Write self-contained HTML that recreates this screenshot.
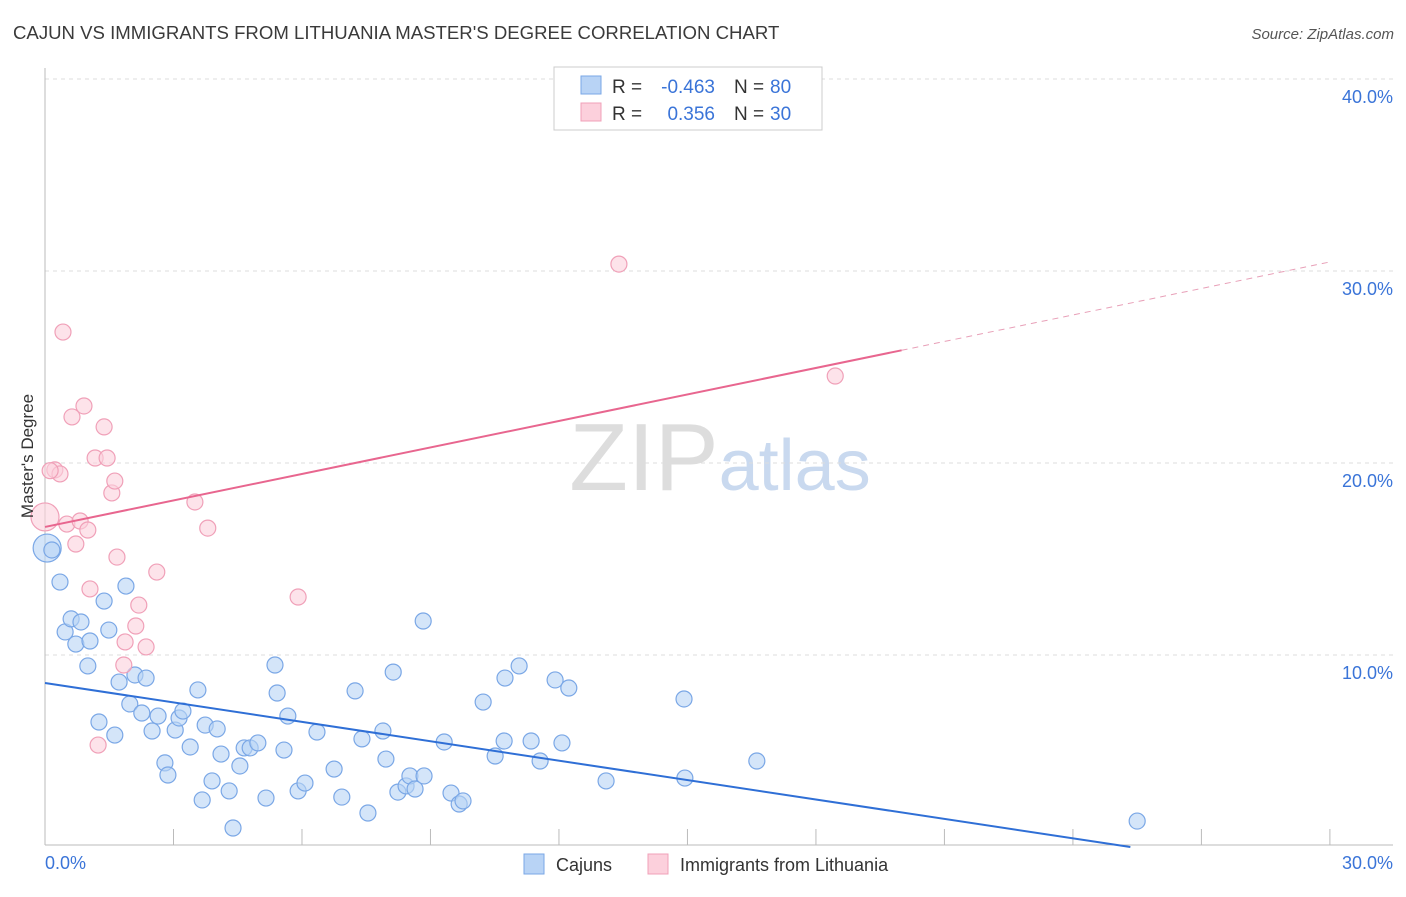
<!DOCTYPE html>
<html><head><meta charset="utf-8"><style>
body{margin:0;background:#fff;font-family:"Liberation Sans",sans-serif}
svg text{font-family:"Liberation Sans",sans-serif}
</style></head><body>
<svg id="chart" width="1406" height="892" xmlns="http://www.w3.org/2000/svg">
<text x="13" y="39" font-size="18.6" fill="#3a3a3a">CAJUN VS IMMIGRANTS FROM LITHUANIA MASTER'S DEGREE CORRELATION CHART</text>
<text x="1394" y="39" font-size="15" fill="#555" text-anchor="end" font-style="italic">Source: ZipAtlas.com</text>
<text x="720" y="490" font-size="96" text-anchor="middle" fill="#ddd" font-family="Liberation Serif">ZIP<tspan fill="#c9d9ef" font-family="Liberation Sans" font-size="72">atlas</tspan></text>
<g id="grid"></g><g id="axes"></g><g id="marks"></g><g id="lines"></g>
<text transform="translate(33,456) rotate(-90)" font-size="17" fill="#333" text-anchor="middle">Master's Degree</text>
<g>
<rect x="554" y="67" width="268" height="63" fill="#fff" stroke="#ccc"/>
<rect x="581" y="76" width="20" height="18" fill="#b8d3f5" stroke="#7aa7e6"/>
<rect x="581" y="103" width="20" height="18" fill="#fcd0dc" stroke="#f0a0b8"/>
<text x="612" y="93" font-size="19" fill="#333">R =</text>
<text x="715" y="93" font-size="19" fill="#3a74d8" text-anchor="end">-0.463</text>
<text x="734" y="93" font-size="19" fill="#333">N =</text>
<text x="770" y="93" font-size="19" fill="#3a74d8">80</text>
<text x="612" y="120" font-size="19" fill="#333">R =</text>
<text x="715" y="120" font-size="19" fill="#3a74d8" text-anchor="end">0.356</text>
<text x="734" y="120" font-size="19" fill="#333">N =</text>
<text x="770" y="120" font-size="19" fill="#3a74d8">30</text>
</g>
<g>
<rect x="524" y="854" width="20" height="20" fill="#b8d3f5" stroke="#7aa7e6"/>
<text x="556" y="871" font-size="18" fill="#333">Cajuns</text>
<rect x="648" y="854" width="20" height="20" fill="#fcd0dc" stroke="#f0a0b8"/>
<text x="680" y="871" font-size="18" fill="#333">Immigrants from Lithuania</text>
</g>
</svg>
<script>
const yTicks=[10,20,30,40];
const xTicks=[0,3,6,9,12,15,18,21,24,27,30];
const blueX=[0.05,0.16,0.35,0.47,0.61,0.72,0.84,1.0,1.05,1.26,1.38,1.49,1.63,1.73,1.89,1.98,2.1,2.26,2.36,2.5,2.64,2.8,2.87,3.04,3.13,3.22,3.39,3.57,3.67,3.74,3.9,4.02,4.11,4.3,4.39,4.55,4.65,4.79,4.97,5.16,5.37,5.42,5.58,5.67,5.91,6.07,6.35,6.75,6.93,7.24,7.4,7.54,7.89,7.96,8.13,8.24,8.43,8.52,8.64,8.85,8.83,9.32,9.48,9.67,9.76,10.23,10.51,10.74,10.72,11.07,11.35,11.56,11.91,12.07,12.23,13.1,14.94,14.92,16.62,25.5];
const blueY=[15.57,15.47,13.8,11.2,11.88,10.57,11.72,9.43,10.73,6.51,12.81,11.3,5.83,8.59,13.59,7.45,8.96,6.98,8.8,6.04,6.82,4.38,3.75,6.09,6.72,7.08,5.21,8.18,2.45,6.35,3.44,6.15,4.84,2.92,0.99,4.22,5.16,5.16,5.42,2.55,9.48,8.02,5.05,6.82,2.92,3.33,5.99,4.06,2.6,8.13,5.63,1.77,6.04,4.58,9.11,2.86,3.18,3.7,3.02,3.7,11.77,5.47,2.81,2.24,2.4,7.55,4.74,8.8,5.52,9.43,5.52,4.48,8.7,5.42,8.28,3.44,3.59,7.71,4.48,1.35];
const pinkX=[0,0.23,0.35,0.42,0.51,0.63,0.72,0.82,0.91,1.0,1.05,1.17,1.24,1.38,1.45,1.56,1.63,1.68,1.84,1.87,2.12,2.19,2.36,2.61,3.5,3.8,5.91,13.4,18.45,0.12];
const pinkY=[17.19,19.64,19.43,26.82,16.82,22.4,15.78,16.98,22.97,16.51,13.44,20.26,5.31,21.88,20.26,18.44,19.06,15.1,9.48,10.68,11.51,12.6,10.42,14.32,17.97,16.61,13.02,30.36,24.53,19.6];
const blueTrend=[8.54,-0.337];
const pinkTrend=[16.67,0.46];
const X=v=>45+v*42.83, Y=v=>847-v*19.2;
const NS="http://www.w3.org/2000/svg";
function mk(t,a,p){const e=document.createElementNS(NS,t);for(const k in a)e.setAttribute(k,a[k]);p.appendChild(e);return e;}
const grid=document.getElementById('grid'),axes=document.getElementById('axes'),marks=document.getElementById('marks'),lines=document.getElementById('lines');
yTicks.forEach(v=>{
 const l=mk('line',{x1:45,x2:1393,y1:Y(v),y2:Y(v),stroke:'#ddd','stroke-dasharray':'4,4'},grid);
 
 
 const t=mk('text',{x:1393,y:Y(v)+24,'font-size':18,fill:'#3a74d8','text-anchor':'end'},axes);
 t.textContent=v.toFixed(1)+'%';
 
 
});
const ax=mk('line',{x1:45,x2:45,y1:68,y2:845,stroke:'#bbb'},axes);


const bx=mk('line',{x1:45,x2:1393,y1:845,y2:845,stroke:'#bbb'},axes);


xTicks.forEach(v=>{
 const l=mk('line',{x1:X(v),x2:X(v),y1:829,y2:845,stroke:'#bbb'},axes);
 
 
});
[[0,'start'],[30,'end']].forEach(([v,a])=>{
 const t=mk('text',{x:v==0?X(0):1393,y:869,'font-size':18,fill:'#3a74d8','text-anchor':a},axes);
 t.textContent=v.toFixed(1)+'%';
 
 
});
blueX.forEach((x,i)=>{
 const c=mk('circle',{cx:X(x),cy:Y(blueY[i]),r:i==0?14:8,fill:'#b8d3f5','fill-opacity':0.6,stroke:'#7aa7e6','stroke-width':1.2},marks);
 
 
});
pinkX.forEach((x,i)=>{
 const c=mk('circle',{cx:X(x),cy:Y(pinkY[i]),r:i==0?14:8,fill:'#fcd0dc','fill-opacity':0.6,stroke:'#f0a0b8','stroke-width':1.2},marks);
 
 
});
const bEnd=-blueTrend[0]/blueTrend[1];
const bl=mk('line',{x1:X(0),y1:Y(blueTrend[0]),x2:X(bEnd),y2:Y(0),stroke:'#2f6fd6','stroke-width':2},lines);


const pl=mk('line',{x1:X(0),y1:Y(pinkTrend[0]),x2:X(20),y2:Y(pinkTrend[0]+20*pinkTrend[1]),stroke:'#e8668f','stroke-width':2},lines);


const pd=mk('line',{x1:X(20),y1:Y(pinkTrend[0]+20*pinkTrend[1]),x2:X(30),y2:Y(pinkTrend[0]+30*pinkTrend[1]),stroke:'#e8a0b8','stroke-width':1,'stroke-dasharray':'6,5'},lines);


</script>
</body></html>
